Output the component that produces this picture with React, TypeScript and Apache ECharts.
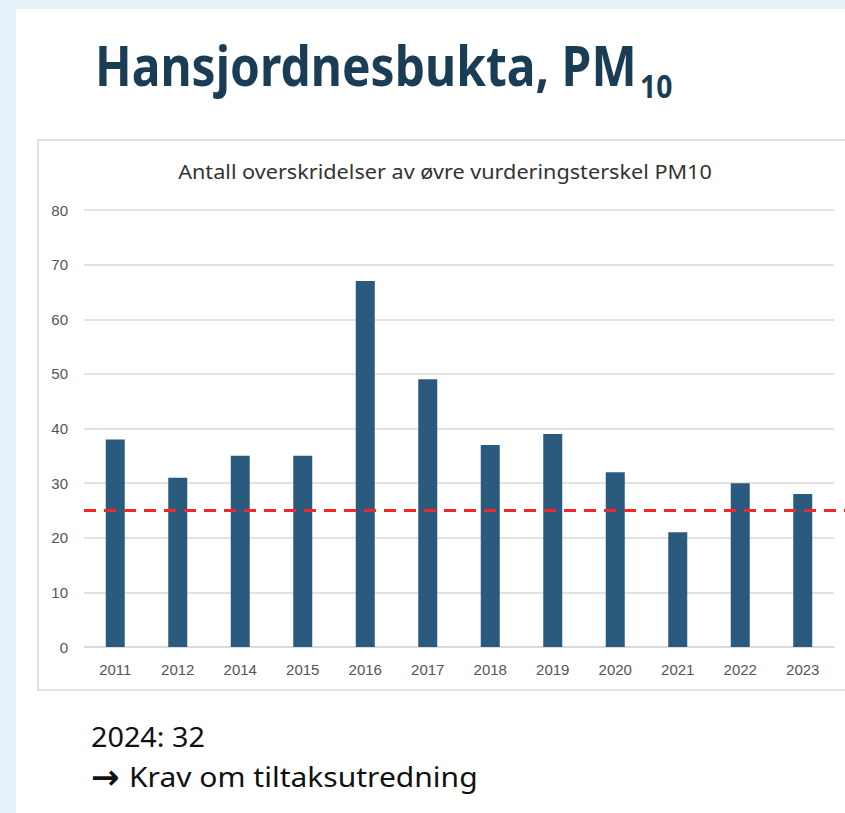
import React, { useEffect, useRef } from "react";
import * as echarts from "echarts";

const categories = ["2011", "2012", "2014", "2015", "2016", "2017", "2018", "2019", "2020", "2021", "2022", "2023"];
const exceedances = [38, 31, 35, 35, 67, 49, 37, 39, 32, 21, 30, 28];
const threshold = 25;
const yTicks = [0, 10, 20, 30, 40, 50, 60, 70, 80];

const pageTitle = "Hansjordnesbukta, PM";
const pageTitleSub = "10";
const chartTitle = "Antall overskridelser av øvre vurderingsterskel PM10";
const noteLine1 = "2024: 32";
const noteArrow = "→";
const noteLine2 = "Krav om tiltaksutredning";

function measure(text: string, font: string): number {
  const ctx = document.createElement("canvas").getContext("2d")!;
  ctx.font = font;
  return ctx.measureText(text).width;
}

export default function App() {
  const ref = useRef<HTMLDivElement>(null);
  useEffect(() => {
    document.body.style.margin = "0";
    const chart = echarts.init(ref.current!, null, { renderer: "svg" });

    const titleFont = "bold 56px 'Noto Sans'";
    const titleScale = 542 / measure(pageTitle, titleFont);
    const titleW = measure(pageTitle, titleFont) * titleScale;
    const subTitleFont = "20px 'Noto Sans'";
    const subScale = 534 / measure(chartTitle, subTitleFont);
    const noteFont = "28px 'Noto Sans'";
    const note1Scale = 114 / measure(noteLine1, noteFont);
    const note2Scale = 349 / measure(noteLine2, noteFont);

    const baseGraphic: any[] = [
      { id: "panel", type: "rect", z: -10, shape: { x: 16, y: 9, width: 840, height: 820 }, style: { fill: "#ffffff" } },
      { id: "box", type: "rect", z: -9, shape: { x: 38, y: 140, width: 830, height: 550 }, style: { fill: "#ffffff", stroke: "#d9d9d9", lineWidth: 1.5 } },
      {
        id: "t1", type: "text", x: 95, y: 64, scaleX: titleScale,
        style: { text: pageTitle, fontFamily: "Noto Sans", fontWeight: "bold", fontSize: 56, fill: "#1a3d56", verticalAlign: "middle" },
      },
      {
        id: "t2", type: "text", x: 95 + titleW + 3, y: 85, scaleX: titleScale,
        style: { text: pageTitleSub, fontFamily: "Noto Sans", fontWeight: "bold", fontSize: 33, fill: "#1a3d56", verticalAlign: "middle" },
      },
      {
        id: "ct", type: "text", x: 445, y: 171, scaleX: subScale,
        style: { text: chartTitle, fontFamily: "Noto Sans", fontSize: 20, fill: "#333333", align: "center", verticalAlign: "middle" },
      },
      {
        id: "n1", type: "text", x: 91, y: 736, scaleX: note1Scale,
        style: { text: noteLine1, fontFamily: "Noto Sans", fontSize: 28, fill: "#111111", verticalAlign: "middle" },
      },
      {
        id: "n2a", type: "text", x: 91, y: 777,
        style: { text: noteArrow, fontFamily: "DejaVu Sans", fontWeight: "bold", fontSize: 34, fill: "#111111", verticalAlign: "middle" },
      },
      {
        id: "n2", type: "text", x: 129, y: 776, scaleX: note2Scale,
        style: { text: noteLine2, fontFamily: "Noto Sans", fontSize: 28, fill: "#111111", verticalAlign: "middle" },
      },
    ];

    chart.setOption({
      animation: false,
      backgroundColor: "#e5f0f8",
      graphic: baseGraphic,
      grid: { left: 84, right: 11, top: 210, bottom: 166, containLabel: false },
      xAxis: {
        type: "category",
        data: categories,
        axisLine: { show: true, lineStyle: { color: "#d9d9d9", width: 1.5 } },
        axisTick: { show: false },
        axisLabel: { color: "#555555", fontSize: 15, fontFamily: "Liberation Sans", margin: 15 },
      },
      yAxis: {
        type: "value",
        min: yTicks[0],
        max: yTicks[yTicks.length - 1],
        interval: 10,
        axisLine: { show: false },
        axisTick: { show: false },
        splitLine: { lineStyle: { color: "#d9d9d9", width: 1.5 } },
        axisLabel: { color: "#555555", fontSize: 15, fontFamily: "Liberation Sans", margin: 16 },
      },
      series: [
        {
          type: "bar",
          data: exceedances,
          barWidth: 19,
          itemStyle: { color: "#2a5b7e" },
        },
      ],
    });

    const yPx = chart.convertToPixel({ yAxisIndex: 0 }, threshold) as number;
    chart.setOption({
      graphic: [
        ...baseGraphic,
        {
          id: "thr", type: "line", z: 10,
          shape: { x1: 84, y1: yPx, x2: 845, y2: yPx },
          style: { stroke: "#f0282a", lineWidth: 3, lineDash: [12, 8] },
        },
      ],
    });

    return () => chart.dispose();
  }, []);
  return <div ref={ref} style={{ position: "absolute", left: 0, top: 0, width: 845, height: 813 }} />;
}
